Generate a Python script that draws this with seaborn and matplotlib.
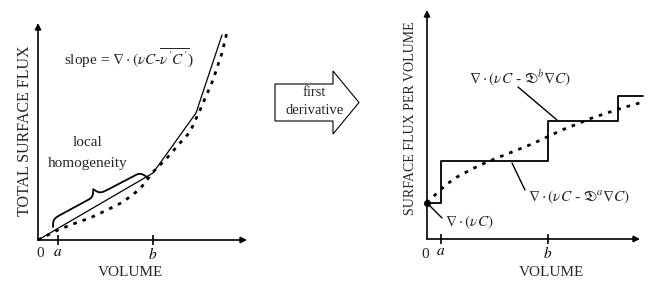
import numpy as np
import pandas as pd
import matplotlib
matplotlib.use("Agg")
import matplotlib.pyplot as plt
import seaborn as sns
from matplotlib.patches import Polygon

# ---------------- data (arbitrary units) ----------------
left_solid_volume = [0, 11.5, 15.8, 18.4]
left_solid_flux = [0, 6.7, 12.7, 20.5]
left_dotted_volume = [0, 2.0, 3.5, 5.2, 6.9, 8.5, 10.2, 11.5, 12.9, 14.2, 15.2, 16.2, 17.5, 18.4, 18.9]
left_dotted_flux = [0, 1.0, 1.6, 2.2, 3.0, 3.8, 5.1, 6.8, 8.2, 9.7, 10.8, 13.0, 16.0, 18.7, 20.8]

right_step_volume = [0, 1.4, 12.1, 19.1, 21.6]
right_step_flux = [3.6, 7.8, 11.8, 14.3, 14.3]
right_dotted_volume = [0, 1.0, 2.0, 3.0, 4.5, 6.0, 7.5, 9.0, 10.5, 12.0, 13.5, 15.0, 16.5, 18.0, 19.5, 21.6]
right_dotted_flux = [3.6, 4.6, 5.5, 6.2, 7.0, 7.7, 8.3, 8.9, 9.5, 10.2, 10.9, 11.5, 12.1, 12.6, 13.1, 13.7]

left_ticks = [2.0, 11.5]
right_ticks = [1.4, 12.1]
tick_labels = ["$a$", "$b$"]

# ---------------- style ----------------
sns.set_theme(style="white")
plt.rcParams["font.family"] = ["Liberation Serif", "DejaVu Serif"]
plt.rcParams["mathtext.fontset"] = "stix"

W, H = 652, 291
fig = plt.figure(figsize=(W / 100, H / 100), dpi=100)
fig.patch.set_facecolor("white")


def px_rect(x0, ytop, x1, ybot):
    return [x0 / W, 1 - ybot / H, (x1 - x0) / W, (ybot - ytop) / H]


def fx(px):
    return px / W


def fy(py):
    return 1 - py / H


def setup(ax, xmax, ymax, xarrow, yarrow, ticks):
    ax.set_xlim(0, xmax)
    ax.set_ylim(0, ymax)
    for s in ax.spines.values():
        s.set_visible(False)
    ax.patch.set_alpha(0)
    arrow = dict(arrowstyle="-|>", lw=1.2, color="black", mutation_scale=9,
                 shrinkA=0, shrinkB=0)
    ax.annotate("", xy=(xarrow, 0), xytext=(0, 0), arrowprops=arrow,
                annotation_clip=False)
    ax.annotate("", xy=(0, yarrow), xytext=(0, 0), arrowprops=arrow,
                annotation_clip=False)
    ax.set_xticks(ticks)
    ax.set_xticklabels(tick_labels)
    ax.set_yticks([])
    ax.tick_params(axis="x", direction="inout", length=7, width=1.2,
                   pad=1, labelsize=11, colors="black", bottom=True)
    ax.grid(False)


# ---------------- left panel ----------------
axL = fig.add_axes(px_rect(38, 10, 250, 240))
setup(axL, 21.2, 23.0, 20.9, 21.7, left_ticks)
sns.lineplot(x=left_solid_volume, y=left_solid_flux, ax=axL, color="black",
             lw=0.9, sort=False, clip_on=False)
sns.lineplot(x=left_dotted_volume, y=left_dotted_flux, ax=axL, color="black",
             lw=2.0, linestyle=(0, (1.3, 2.2)), sort=False, clip_on=False)
axL.text(0.2, -1.35, "0", ha="center", va="center", fontsize=11)
axL.text(9.3, -3.2, "VOLUME", ha="center", va="center", fontsize=11)
axL.text(9.1, 18.2, r"slope = $\nabla\cdot(\nu C$-$\overline{\nu' C'}$)",
         ha="center", va="center", fontsize=11)
axL.text(5.0, 9.7, "local", ha="center", va="center", fontsize=11)
axL.text(5.0, 7.7, "homogeneity", ha="center", va="center", fontsize=11)

# curly brace above the locally linear segment
p1 = np.array([1.5, 1.3])
p2 = np.array([10.9, 6.3])
chord = p2 - p1
L = np.hypot(*chord)
tang = chord / L
norm = np.array([-tang[1], tang[0]])
t = np.linspace(0, 0.5, 150)
beta = 55.0
half = 1 / (1 + np.exp(-beta * t)) + 1 / (1 + np.exp(-beta * (t - 0.5))) - 0.5
prof = np.concatenate([half, half[::-1][1:]])
s = np.concatenate([t, (1 - t[::-1])[1:]])
bw = 1.45
bx = p1[0] + s * chord[0] + prof * bw * norm[0]
by = p1[1] + s * chord[1] + prof * bw * norm[1]
axL.plot(bx, by, color="black", lw=1.3, clip_on=False)

fig.text(fx(25), fy(131), "TOTAL SURFACE FLUX", rotation=90, ha="center",
         va="center", fontsize=11.5)

# ---------------- middle arrow ----------------
arrow_px = [(275, 84), (333, 84), (333, 71), (359, 102.5), (333, 134),
            (333, 121), (275, 121)]
poly = Polygon([(fx(x), fy(y)) for x, y in arrow_px], closed=True,
               transform=fig.transFigure, facecolor="white", edgecolor="black",
               lw=0.8)
fig.patches.append(poly)
fig.text(fx(314), fy(93), "first", ha="center", va="center", fontsize=10.5)
fig.text(fx(315), fy(110), "derivative", ha="center", va="center", fontsize=10.5)

# ---------------- right panel ----------------
axR = fig.add_axes(px_rect(427, 8, 650, 239))
setup(axR, 22.3, 23.1, 21.3, 22.9, right_ticks)
sns.lineplot(x=right_step_volume, y=right_step_flux, ax=axR, color="black",
             lw=1.3, drawstyle="steps-post", sort=False, clip_on=False)
sns.lineplot(x=right_dotted_volume, y=right_dotted_flux, ax=axR, color="black",
             lw=2.0, linestyle=(0, (1.3, 2.2)), sort=False, clip_on=False)
axR.plot([right_dotted_volume[0]], [right_dotted_flux[0]], "o", color="black",
         ms=4, clip_on=False)
axR.text(-0.2, -1.6, "0", ha="center", va="center", fontsize=11)
axR.text(12.5, -3.3, "VOLUME", ha="center", va="center", fontsize=11)

axR.plot([0, 1.5], [3.6, 2.1], color="black", lw=1.0)
axR.text(1.8, 1.7, r"$\nabla\cdot(\nu C)$", ha="left", va="center", fontsize=11)
axR.plot([9.1, 13.0], [15.2, 11.9], color="black", lw=1.0)
axR.text(9.3, 16.1, r"$\nabla\cdot(\nu C$ - $\mathfrak{D}^{b}\nabla C)$",
         ha="center", va="center", fontsize=11)
axR.plot([8.5, 9.8], [7.6, 4.9], color="black", lw=1.0)
axR.text(15.2, 4.2, r"$\nabla\cdot(\nu C$ - $\mathfrak{D}^{a}\nabla C)$",
         ha="center", va="center", fontsize=11)

fig.text(fx(410), fy(118), "SURFACE FLUX PER VOLUME", rotation=90, ha="center",
         va="center", fontsize=10)

fig.savefig("out.png", dpi=100, facecolor="white")
